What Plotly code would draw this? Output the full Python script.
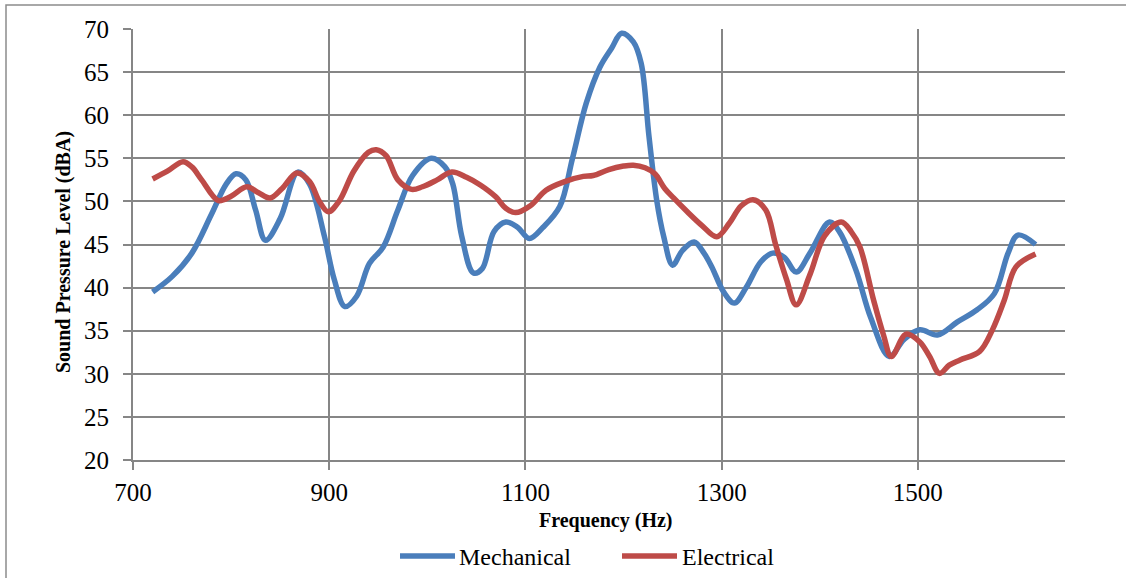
import plotly.graph_objects as go

# Sound pressure level sweep, mechanical vs electrical excitation
mech_freq = [720, 740, 760, 780, 795, 805, 815, 825, 835, 850, 868, 880, 895, 905,
             916, 928, 941, 955, 970, 985, 1004, 1018, 1026, 1035, 1047, 1056, 1068,
             1080, 1092, 1104, 1118, 1135, 1148, 1162, 1176, 1188, 1198, 1210, 1218,
             1226, 1234, 1241, 1250, 1260, 1272, 1282, 1290, 1302, 1313, 1325, 1340,
             1352, 1364, 1376, 1390, 1410, 1420, 1437, 1452, 1471, 1486, 1502, 1520,
             1540, 1560, 1578, 1592, 1602, 1620]
mech_spl = [39.5, 41.3, 44.0, 48.5, 52.0, 53.2, 52.5, 49.0, 45.5, 48.0, 53.4, 52.0,
            46.0, 41.0, 37.8, 39.0, 42.8, 44.7, 49.0, 53.0, 55.0, 54.0, 52.0, 46.0,
            41.7, 42.2, 46.5, 47.6, 47.0, 45.7, 47.0, 49.4, 55.0, 61.4, 65.6, 67.8,
            69.5, 68.5, 66.0, 57.5, 50.0, 45.9, 42.6, 44.3, 45.3, 44.0, 42.4, 39.5,
            38.2, 40.0, 43.0, 44.0, 43.5, 41.8, 44.0, 47.6, 46.5, 42.0, 36.5, 32.0,
            34.0, 35.1, 34.5, 36.0, 37.4, 39.3, 44.0, 46.1, 45.0]

elec_freq = [720, 735, 751, 760, 770, 787, 800, 816, 828, 840, 852, 867, 880, 890,
             899, 910, 925, 940, 948, 958, 970, 984, 995, 1010, 1025, 1040, 1054,
             1070, 1080, 1090, 1105, 1121, 1140, 1159, 1169, 1185, 1200, 1210, 1222,
             1232, 1242, 1251, 1265, 1280, 1295, 1308, 1320, 1332, 1345, 1355, 1366,
             1376, 1390, 1405, 1422, 1432, 1441, 1455, 1465, 1473, 1488, 1502, 1512,
             1522, 1532, 1543, 1563, 1576, 1588, 1600, 1620]
elec_spl = [52.6, 53.5, 54.6, 54.0, 52.5, 50.1, 50.6, 51.7, 51.0, 50.4, 51.5, 53.3,
            52.3, 50.0, 48.8, 50.0, 53.5, 55.7, 56.0, 55.3, 52.5, 51.4, 51.7, 52.5,
            53.4, 52.8, 51.9, 50.5, 49.2, 48.7, 49.5, 51.3, 52.3, 52.9, 53.0, 53.7,
            54.1, 54.2, 53.9, 53.2, 51.5, 50.4, 48.8, 47.2, 45.9, 47.5, 49.5, 50.2,
            49.0, 45.0, 41.0, 38.0, 41.5, 46.0, 47.6, 46.5, 44.7, 38.5, 34.5, 32.0,
            34.6, 33.7, 32.0, 30.05, 31.0, 31.6, 32.6, 35.1, 38.5, 42.4, 43.9]

series_names = ["Mechanical", "Electrical"]
series_colors = ["#4A7EBB", "#BE4B48"]

W, H = 1126, 578
L, R, T, B = 133, 61, 29, 118
pw, ph = W - L - R, H - T - B


def px_x(x):
    return (x - L) / pw


def px_y(y):
    return (H - B - y) / ph


GRID = "#868686"
FONT = "Liberation Serif"

fig = go.Figure()
for name, fx, fy, col in zip(series_names, [mech_freq, elec_freq],
                             [mech_spl, elec_spl], series_colors):
    fig.add_trace(go.Scatter(
        x=fx, y=fy, name=name, mode="lines",
        line=dict(color=col, width=5.5, shape="spline", smoothing=1.0),
        showlegend=False,
    ))

shapes = [
    # outer chart frame
    dict(type="rect", xref="paper", yref="paper",
         x0=px_x(6), x1=px_x(1140), y0=px_y(600), y1=px_y(5),
         line=dict(color="#8C8C8C", width=1.5), layer="below"),
]
annotations = [
    dict(text="<b>Frequency (Hz)</b>", xref="paper", yref="paper",
         x=px_x(606), y=px_y(520), xanchor="center", yanchor="middle",
         showarrow=False,
         font=dict(family=FONT, size=20, color="#000")),
    dict(text="<b>Sound Pressure Level (dBA)</b>", xref="paper", yref="paper",
         x=px_x(63), y=px_y(252), xanchor="center", yanchor="middle",
         textangle=-90, showarrow=False,
         font=dict(family=FONT, size=20, color="#000")),
]

# legend: line sample plus label for each series
legend_items = [(400, 455, 457), (622, 677, 680)]
for (lx0, lx1, tx), name, col in zip(legend_items, series_names, series_colors):
    shapes.append(dict(type="line", xref="paper", yref="paper",
                       x0=px_x(lx0), x1=px_x(lx1), y0=px_y(556), y1=px_y(556),
                       line=dict(color=col, width=5.5)))
    annotations.append(dict(text=name, xref="paper", yref="paper",
                            x=px_x(tx), y=px_y(557), xanchor="left",
                            yanchor="middle", showarrow=False,
                            font=dict(family=FONT, size=24, color="#000")))

fig.update_layout(
    width=W, height=H,
    margin=dict(l=L, r=R, t=T, b=B, pad=0),
    paper_bgcolor="white", plot_bgcolor="white",
    font=dict(family=FONT, color="#000"),
    shapes=shapes, annotations=annotations,
    xaxis=dict(range=[700, 1650], tick0=700, dtick=200, tickmode="linear",
               showgrid=True, gridcolor=GRID, gridwidth=2,
               showline=True, linecolor=GRID, linewidth=2,
               ticks="outside", ticklen=8, tickwidth=2, tickcolor=GRID,
               ticklabelstandoff=1,
               tickfont=dict(family=FONT, size=25, color="#000"),
               zeroline=False),
    yaxis=dict(range=[20, 70], tick0=20, dtick=5, tickmode="linear",
               showgrid=True, gridcolor=GRID, gridwidth=2,
               showline=True, linecolor=GRID, linewidth=2,
               ticks="outside", ticklen=8, tickwidth=2, tickcolor=GRID,
               ticklabelstandoff=9,
               tickfont=dict(family=FONT, size=25, color="#000"),
               zeroline=False),
)

fig.write_html("out.html")
